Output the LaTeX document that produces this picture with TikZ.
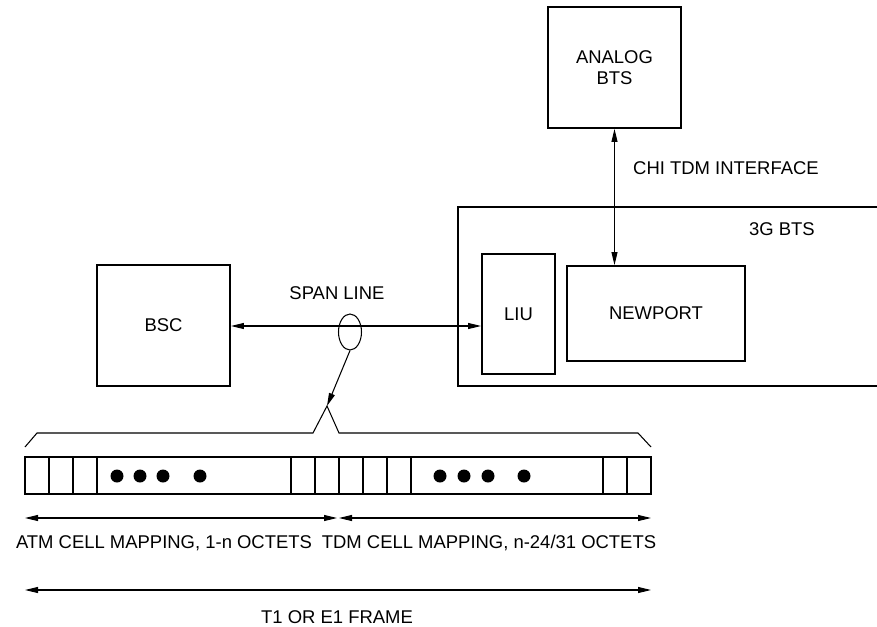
\documentclass[tikz,border=0pt]{standalone}
\usepackage{fontspec}
\setmainfont{Liberation Sans}
\usepackage{tikz}
\usetikzlibrary{arrows.meta,shapes.geometric}

\begin{document}
\begin{tikzpicture}[
  box/.style={rectangle, draw=black, line width=1.1pt, align=center, inner sep=2pt},
  lbl/.style={font=\fontsize{10.5}{12}\selectfont, align=center, inner sep=0pt},
  cell/.style={draw=black, line width=0.6pt},
  link/.style={{Triangle[length=2.6mm,width=1.2mm]}-{Triangle[length=2.6mm,width=1.2mm]}, draw=black, line width=0.6pt},
  flow/.style={-{Triangle[length=2.6mm,width=1.2mm]}, draw=black, line width=0.6pt},
  dot/.style={circle, fill=black, inner sep=0pt, minimum size=2.6mm}
]
\clip (0,0) rectangle (17.54,-12.52);
\node[box, lbl, minimum width=2.66cm, minimum height=2.42cm] (analog) at (12.29,-1.35) {ANALOG\\BTS};
\node[box, minimum width=8.84cm, minimum height=3.58cm] (bts)  at (13.58,-5.93) {};
\node[lbl] (btslbl) at (15.64,-4.58) {3G BTS};
\node[box, lbl, minimum width=1.46cm, minimum height=2.4cm]  (liu)     at (10.37,-6.28) {LIU};
\node[box, lbl, minimum width=3.56cm, minimum height=1.9cm]  (newport) at (13.12,-6.27) {NEWPORT};
\node[box, lbl, minimum width=2.66cm, minimum height=2.42cm] (bsc)     at (3.27,-6.51)  {BSC};
\node[lbl] (chi)  at (14.52,-3.36) {CHI TDM INTERFACE};
\node[lbl] (span) at (6.74,-5.86)  {SPAN LINE};
\node[ellipse, draw=black, line width=0.6pt, minimum width=0.46cm, minimum height=0.72cm, inner sep=0pt] (loop) at (7.0,-6.64) {};
\draw[link] (analog.south) -- (analog.south |- newport.north);
\draw[link] (bsc.east |- 0,-6.52) -- (liu.west |- 0,-6.52);
\coordinate (apex) at (6.54,-8.12);
\draw[flow] (loop.south) -- (apex);
% brace over the frame
\draw[line width=0.6pt] (0.5,-8.94) -- (0.74,-8.66) -- (6.26,-8.66) -- (apex) -- (6.78,-8.66) -- (12.76,-8.66) -- (13.02,-8.94);
% frame octets
\node[draw=black, line width=1.1pt, minimum width=12.52cm, minimum height=0.74cm, inner sep=0pt] (frame) at (6.76,-9.51) {};
\foreach \x in {0.98,1.46,1.94,5.82,6.30,6.78,7.26,7.74,8.22,12.06,12.54}
  \draw[cell] (\x,-9.14) -- (\x,-9.88);
\foreach \x in {2.34,2.80,3.26,4.00,8.80,9.28,9.76,10.48}
  \node[dot] at (\x,-9.52) {};
% mapping arrows
\coordinate (atmL) at (0.5,-10.36);
\coordinate (atmR) at (6.74,-10.36);
\coordinate (tdmL) at (6.78,-10.36);
\coordinate (tdmR) at (13.02,-10.36);
\draw[link] (atmL) -- (atmR);
\draw[link] (tdmL) -- (tdmR);
\node[lbl] (atm) at (3.28,-10.86)  {ATM CELL MAPPING, 1-n OCTETS};
\node[lbl] (tdm) at (9.78,-10.86) {TDM CELL MAPPING, n-24/31 OCTETS};
\coordinate (frmL) at (0.5,-11.8);
\coordinate (frmR) at (13.02,-11.8);
\draw[link] (frmL) -- (frmR);
\node[lbl] (t1) at (6.74,-12.34) {T1 OR E1 FRAME};
\end{tikzpicture}
\end{document}
